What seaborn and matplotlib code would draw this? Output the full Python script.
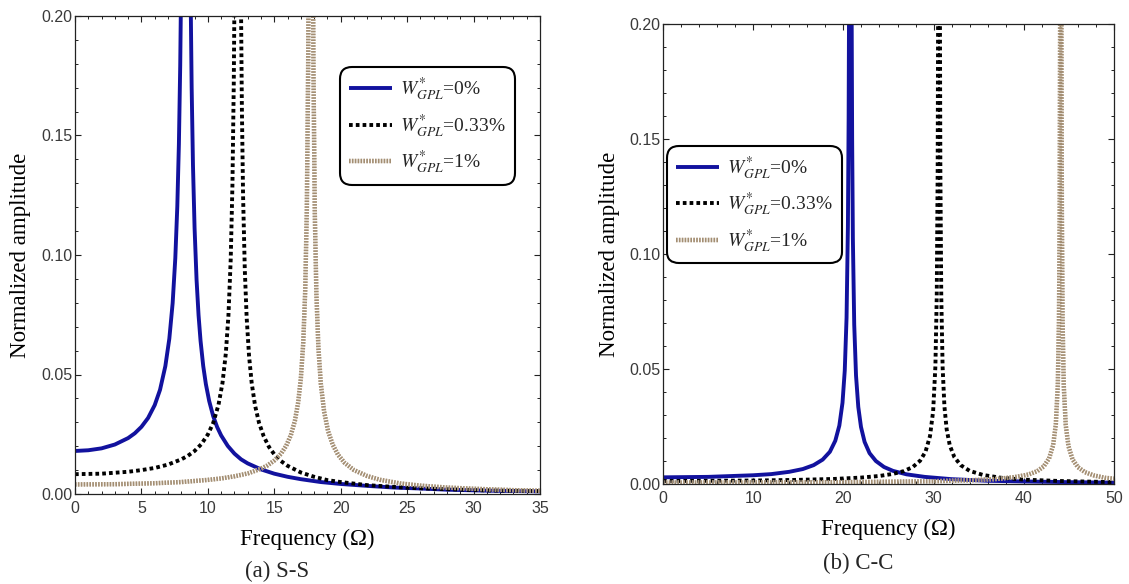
import numpy as np
import pandas as pd
import matplotlib
matplotlib.use("Agg")
import matplotlib.pyplot as plt
import matplotlib.patheffects as pe
from matplotlib.ticker import MultipleLocator, FormatStrFormatter
import seaborn as sns

# ---------------- data ----------------
# (a) S-S
ss_x_0 = [0, 1, 2, 3, 4, 4.5, 5, 5.5, 6, 6.4, 6.8, 7.1, 7.35, 7.55, 7.7, 7.82, 7.92, 8.0,
          8.1, 8.35, 8.6, 8.7, 8.78, 8.88, 9.0, 9.15, 9.3, 9.45, 9.65, 9.85, 10.1, 10.4,
          10.7, 11.0, 11.5, 12, 12.5, 13, 14, 15, 16, 17, 18.5, 20, 22, 24, 26, 28, 31, 35]
ss_y_0 = [0.0180, 0.0183, 0.0191, 0.0207, 0.0234, 0.0254, 0.0281, 0.0318, 0.0372, 0.0436,
          0.0535, 0.0650, 0.0799, 0.0987, 0.1203, 0.1464, 0.1795, 0.2194,
          0.305, 1.0, 0.296, 0.210, 0.1703, 0.1375, 0.1113, 0.0896, 0.0748, 0.0641, 0.0536,
          0.0460, 0.0389, 0.0326, 0.0280, 0.0245, 0.0201, 0.0169, 0.0145, 0.0128, 0.0103,
          0.0085, 0.0072, 0.0062, 0.0050, 0.0042, 0.0034, 0.0027, 0.0023, 0.0018, 0.0014,
          0.0011]

ss_x_033 = [0, 2, 4, 5, 6, 7, 8, 8.5, 9, 9.5, 10, 10.4, 10.8, 11.1, 11.35, 11.55, 11.72,
            11.85, 11.95, 12.0, 12.1, 12.25, 12.4, 12.5, 12.56, 12.65, 12.78, 12.92, 13.1,
            13.3, 13.55, 13.85, 14.2, 14.6, 15, 15.5, 16, 17, 18, 19, 20, 22, 25, 28, 31, 35]
ss_y_033 = [0.0083, 0.0085, 0.0093, 0.0100, 0.0109, 0.0123, 0.0145, 0.0160, 0.0180, 0.0208,
            0.0249, 0.0297, 0.0373, 0.0464, 0.0587, 0.0748, 0.0981,
            0.1293, 0.1716, 0.2056, 0.341, 1.0, 0.337, 0.2013, 0.1620, 0.1251, 0.0939,
            0.0739, 0.0578, 0.0464, 0.0371, 0.0298, 0.0242, 0.0197, 0.0166, 0.0138, 0.0118,
            0.0090, 0.0072, 0.0058, 0.0050, 0.0037, 0.0026, 0.0020, 0.0015, 0.0012]

ss_x_1 = [0, 3, 6, 8, 10, 11, 12, 13, 14, 14.5, 15, 15.5, 15.9, 16.25, 16.55, 16.8, 17.0,
          17.18, 17.33, 17.45, 17.55, 17.6, 17.75, 17.9, 17.95, 18.05, 18.17, 18.32, 18.5,
          18.75, 19.05, 19.4, 19.8, 20.3, 21, 22, 23, 24.5, 26, 28, 30, 33, 35]
ss_y_1 = [0.0040, 0.0041, 0.0045, 0.0050, 0.0059, 0.0065, 0.0074, 0.0086, 0.0106, 0.0120,
          0.0140, 0.0168, 0.0202, 0.0247, 0.0306, 0.0384, 0.0484,
          0.0633, 0.0855, 0.1193, 0.1785, 0.2377, 1.0, 0.2355, 0.1765, 0.1173, 0.0835,
          0.0613, 0.0463, 0.0345, 0.0263, 0.0206, 0.0164, 0.0130, 0.0100, 0.0075, 0.0059,
          0.0044, 0.0035, 0.0027, 0.0022, 0.0016, 0.0014]

# (b) C-C
cc_x_0 = [0, 5, 10, 12, 14, 15.5, 16.7, 17.7, 18.5, 19.1, 19.55, 19.9, 20.15, 20.35, 20.5,
          20.58, 20.62, 20.77, 20.92, 20.97, 21.05, 21.2, 21.4, 21.65, 21.95, 22.35, 22.9,
          23.6, 24.5, 25.5, 27, 29, 32, 36, 40, 45, 50]
cc_y_0 = [0.0029, 0.0031, 0.0038, 0.0043, 0.0053, 0.0065, 0.0082, 0.0106, 0.0140, 0.0188,
          0.0254, 0.0353, 0.0493, 0.0723, 0.1121,
          0.1590, 0.201, 1.0, 0.200, 0.1499, 0.1068, 0.0693, 0.0471, 0.0335, 0.0248, 0.0183,
          0.0134, 0.0100, 0.0074, 0.0057, 0.0042, 0.0031, 0.0021, 0.0014, 0.0011, 0.0008,
          0.0006]

cc_x_033 = [0, 5, 10, 15, 19, 22, 24, 25.5, 26.7, 27.7, 28.5, 29.1, 29.6, 29.95, 30.2,
            30.35, 30.45, 30.5, 30.6, 30.7, 30.75, 30.85, 31.0, 31.2, 31.45, 31.8, 32.3, 33,
            34, 35.5, 37.5, 40, 44, 50]
cc_y_033 = [0.0013, 0.0014, 0.0015, 0.0018, 0.0022, 0.0028, 0.0035, 0.0044, 0.0056, 0.0074,
            0.0101, 0.0140, 0.0208, 0.0317, 0.0513,
            0.0818, 0.1359, 0.2033, 1.0, 0.2053, 0.1365, 0.0816, 0.0508, 0.0337, 0.0237,
            0.0167, 0.0117, 0.0082, 0.0057, 0.0039, 0.0027, 0.0019, 0.0013, 0.0008]

cc_x_1 = [0, 10, 20, 30, 34, 37, 39, 40.5, 41.5, 42.2, 42.8, 43.25, 43.55, 43.77, 43.9,
          43.98, 44.03, 44.1, 44.17, 44.22, 44.3, 44.43, 44.65, 44.95, 45.4, 46, 46.8, 47.8,
          49, 50]
cc_y_1 = [0.0006, 0.0007, 0.0008, 0.0012, 0.0016, 0.0022, 0.0030, 0.0041, 0.0056, 0.0076,
          0.0111, 0.0168, 0.0259, 0.0431, 0.0711,
          0.1184, 0.203, 1.0, 0.202, 0.1179, 0.0707, 0.0428, 0.0256, 0.0165, 0.0107,
          0.0073, 0.0051, 0.0037, 0.0027, 0.0023]

series_labels = [r"$W^{*}_{GPL}$=0%", r"$W^{*}_{GPL}$=0.33%", r"$W^{*}_{GPL}$=1%"]
x_labels = ["Frequency (\u03a9)", "Frequency (\u03a9)"]
y_label = "Normalized amplitude"
captions = ["(a) S-S", "(b) C-C"]

# ---------------- style ----------------
sns.set_theme(style="ticks")
plt.rcParams["font.family"] = ["Liberation Serif", "DejaVu Serif"]
plt.rcParams["mathtext.fontset"] = "stix"

BLUE = "#12129E"
TICK_COLOR = "#3a3a3a"

fig = plt.figure(figsize=(11.29, 5.84), dpi=100)
ax_l = fig.add_axes([75 / 1129, (584 - 494) / 584, 465 / 1129, 478 / 584])
ax_r = fig.add_axes([663 / 1129, (584 - 484) / 584, 451 / 1129, 460 / 584])

tan_fx = [pe.Stroke(linewidth=3.2, foreground="#D2C5B3"), pe.Normal()]


def draw(ax, xs0, ys0, xs1, ys1, xs2, ys2):
    sns.lineplot(x=xs0, y=ys0, ax=ax, color=BLUE, lw=2.8, sort=False,
                 estimator=None, label=series_labels[0], solid_capstyle="butt")
    sns.lineplot(x=xs1, y=ys1, ax=ax, color="black", lw=2.8, sort=False,
                 estimator=None, label=series_labels[1], linestyle=(0, (0.95, 0.8)),
                 dash_capstyle="butt")
    sns.lineplot(x=xs2, y=ys2, ax=ax, color="#A38E73", lw=3.2, sort=False,
                 estimator=None, label=series_labels[2], linestyle=(0, (0.35, 0.3)),
                 dash_capstyle="butt", path_effects=tan_fx)


draw(ax_l, ss_x_0, ss_y_0, ss_x_033, ss_y_033, ss_x_1, ss_y_1)
draw(ax_r, cc_x_0, cc_y_0, cc_x_033, cc_y_033, cc_x_1, cc_y_1)

for ax, xmax, xmaj, xmin in [(ax_l, 35, 5, 1), (ax_r, 50, 10, 2)]:
    ax.set_xlim(0, xmax)
    ax.set_ylim(0, 0.20)
    ax.xaxis.set_major_locator(MultipleLocator(xmaj))
    ax.xaxis.set_minor_locator(MultipleLocator(xmin))
    ax.yaxis.set_major_locator(MultipleLocator(0.05))
    ax.yaxis.set_minor_locator(MultipleLocator(0.01))
    ax.yaxis.set_major_formatter(FormatStrFormatter("%.2f"))
    ax.tick_params(which="both", direction="in", top=True, right=True,
                   colors="#222222", labelcolor=TICK_COLOR)
    ax.tick_params(which="major", length=4.5, width=0.8, labelsize=11.5)
    ax.tick_params(which="minor", length=2.5, width=0.7)
    ax.tick_params(axis="x", which="major", pad=5)
    ax.tick_params(axis="y", which="major", pad=2)
    for lab in ax.get_xticklabels() + ax.get_yticklabels():
        lab.set_family(["Liberation Sans", "DejaVu Sans"])
    for sp in ax.spines.values():
        sp.set_visible(True)
        sp.set_color("#222222")
        sp.set_linewidth(0.9)
    ax.set_xlabel(x_labels[0], fontsize=16.5, color="black")
    ax.set_ylabel(y_label, fontsize=16.5, color="black")
    ax.xaxis.label.set_va("center")
    ax.yaxis.label.set_va("center")

ax_l.xaxis.set_label_coords(0.5, (494 - 539) / 478)
ax_l.yaxis.set_label_coords((21 - 75) / 465, 0.5)
ax_r.xaxis.set_label_coords(0.5, (484 - 529) / 460)
ax_r.yaxis.set_label_coords((609 - 663) / 451, 0.5)

leg_kw = dict(fontsize=14, frameon=True, fancybox=True, edgecolor="black",
              handlelength=2.2, handletextpad=0.45, labelspacing=0.45,
              borderpad=0.45, borderaxespad=0.0, framealpha=1.0)
leg_l = ax_l.legend(loc="upper left", bbox_to_anchor=(0.570, 0.893), **leg_kw)
leg_r = ax_r.legend(loc="upper left", bbox_to_anchor=(0.009, 0.735), **leg_kw)
for leg in (leg_l, leg_r):
    fr = leg.get_frame()
    fr.set_linewidth(1.5)
    fr.set_boxstyle("round,pad=0.0,rounding_size=0.6")

fig.text(277 / 1129, 1 - 571 / 584, captions[0], ha="center", va="center", fontsize=16.5)
fig.text(858 / 1129, 1 - 563 / 584, captions[1], ha="center", va="center", fontsize=16.5)

fig.savefig("out.png", dpi=100)
